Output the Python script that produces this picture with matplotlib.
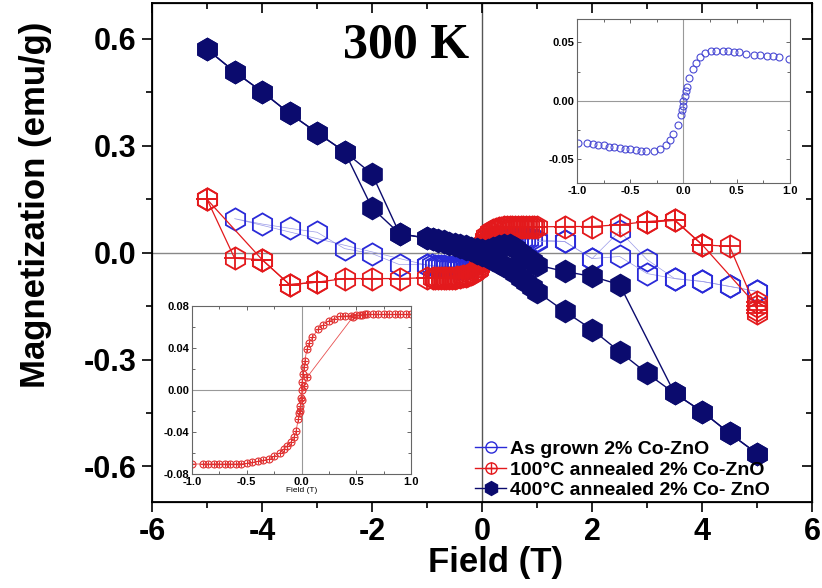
import numpy as np
import matplotlib
matplotlib.use("Agg")
import matplotlib.pyplot as plt
from matplotlib.lines import Line2D
from matplotlib.legend_handler import HandlerTuple
from matplotlib.ticker import MultipleLocator

plt.rcParams['font.family'] = ['Liberation Sans', 'DejaVu Sans']
plt.rcParams['font.weight'] = 'bold'
plt.rcParams['axes.unicode_minus'] = False

# ---- low-field data (insets), field swept 1 -> -1 T ----
blue_in_x = [0.99, 0.9, 0.84, 0.78, 0.72, 0.66, 0.59, 0.52, 0.47, 0.42, 0.37, 0.31,
             0.26, 0.2, 0.156, 0.116, 0.087, 0.053, 0.03, 0.02, 0.01, 0.0, -0.005,
             -0.01, -0.02, -0.056, -0.094, -0.125, -0.166, -0.22, -0.28, -0.35, -0.4,
             -0.45, -0.5, -0.55, -0.6, -0.65, -0.7, -0.75, -0.8, -0.85, -0.906, -0.994]
blue_in_y = [0.036, 0.0374, 0.038, 0.0382, 0.0388, 0.0394, 0.040, 0.0414, 0.0416,
             0.0422, 0.0422, 0.0425, 0.0422, 0.0408, 0.0374, 0.0326, 0.027, 0.0195,
             0.012, 0.008, 0.004, 0.0, -0.004, -0.008, -0.012, -0.0207, -0.0286,
             -0.0334, -0.0377, -0.041, -0.0425, -0.0428, -0.0428, -0.042, -0.0415,
             -0.041, -0.040, -0.0397, -0.039, -0.038, -0.0377, -0.037, -0.0363, -0.0357]

red_in_x = [1.0, 0.95, 0.9, 0.85, 0.8, 0.75, 0.7, 0.65, 0.6, 0.55, 0.5, 0.45, 0.4,
            0.35, 0.3, 0.25, 0.2, 0.15, 0.1, 0.07, 0.05, 0.03, 0.02, 0.01, 0.005, 0.0,
            -0.005, -0.01, -0.02, -0.03, -0.05, -0.07, -0.1, -0.13, -0.16, -0.2, -0.25,
            -0.3, -0.35, -0.4, -0.45, -0.5, -0.55, -0.6, -0.65, -0.7, -0.75, -0.8,
            -0.85, -0.9, -1.0]
red_in_y = [0.072, 0.072, 0.072, 0.072, 0.072, 0.072, 0.072, 0.072, 0.072, 0.0715,
            0.071, 0.0708, 0.0705, 0.070, 0.068, 0.066, 0.062, 0.058, 0.050, 0.045,
            0.039, 0.028, 0.022, 0.015, 0.008, 0.0, -0.008, -0.015, -0.022, -0.028,
            -0.039, -0.045, -0.050, -0.053, -0.056, -0.060, -0.063, -0.066, -0.067,
            -0.068, -0.069, -0.070, -0.0702, -0.0705, -0.0705, -0.0705, -0.0705,
            -0.0705, -0.0705, -0.0705, -0.0705]
# return sweep that jumps in the inset
red_ret_x = [-0.01, 0.0, 0.02, 0.05, 0.47, 0.53, 0.58]
red_ret_y = [-0.02, -0.01, 0.004, 0.012, 0.0696, 0.071, 0.072]

# ---- high-field data ----
blue_left_x = [-5.0, -4.5, -4.0, -3.5, -3.0, -2.5, -2.0, -1.5, -1.0]
blue_left_y = [0.107, 0.095, 0.080, 0.068, 0.057, 0.011, -0.003, -0.034, -0.034]
blue_right_x = [1.0, 1.5, 2.0, 2.5, 3.0, 3.5, 4.0, 4.5, 5.0]
blue_up_y = [0.031, 0.031, -0.017, 0.060, -0.020, -0.073, -0.081, -0.095, -0.109]
blue_dn_y = [0.031, 0.031, -0.017, -0.011, -0.059, -0.073, -0.081, -0.095, -0.109]

red_left_x = [-5.0, -4.5, -4.0, -3.5, -3.0, -2.5, -2.0, -1.5]
red_left_y = [0.149, -0.016, -0.020, -0.090, -0.083, -0.073, -0.073, -0.073]
red_left2_x = [-3.0, -3.5, -4.0, -5.0]
red_left2_y = [-0.083, -0.090, -0.020, 0.149]
red_right_x = [1.5, 2.0, 2.5, 3.0, 3.5, 4.0, 5.0]
red_right_y = [0.073, 0.073, 0.078, 0.087, 0.092, 0.022, -0.150]
red_right2_x = [5.0, 5.0, 5.0, 4.5, 4.0, 3.5, 3.0]
red_right2_y = [-0.170, -0.140, -0.162, 0.017, 0.022, 0.090, 0.085]

navy_left_x = [-5.0, -4.5, -4.0, -3.5, -3.0, -2.5, -2.0, -1.5]
navy_a_left = [0.570, 0.507, 0.451, 0.390, 0.336, 0.283, 0.220, 0.053]
navy_b_left = [0.570, 0.507, 0.451, 0.390, 0.336, 0.283, 0.125, 0.053]
navy_mid_x = [-1.0, -0.9, -0.8, -0.7, -0.6, -0.5, -0.4, -0.3, -0.2, -0.1, 0.0,
              0.1, 0.2, 0.3, 0.4, 0.5, 0.6, 0.7, 0.8, 0.9, 1.0]
navy_a_mid = [0.040, 0.037, 0.034, 0.031, 0.028, 0.025, 0.021, 0.017, 0.013, 0.009,
              0.006, 0.008, 0.012, 0.018, 0.022, 0.020, 0.012, 0.000, -0.012, -0.025, -0.035]
navy_b_mid = [0.040, 0.037, 0.033, 0.029, 0.025, 0.020, 0.016, 0.011, 0.006, 0.000,
              -0.006, -0.013, -0.020, -0.028, -0.037, -0.047, -0.058, -0.070, -0.083, -0.097, -0.110]
navy_a_right_x = [1.5, 2.0, 2.5, 3.5, 4.0, 4.5, 5.0]
navy_a_right = [-0.053, -0.067, -0.090, -0.395, -0.446, -0.507, -0.564]
navy_b_right_x = [1.5, 2.0, 2.5, 3.0, 3.5, 4.0, 4.5, 5.0]
navy_b_right = [-0.165, -0.216, -0.278, -0.339, -0.395, -0.446, -0.507, -0.564]

labels = ["As grown 2% Co-ZnO",
          "100\u00b0C annealed 2% Co-ZnO",
          "400\u00b0C annealed 2% Co- ZnO"]

BLUE = '#2a2ad8'
RED = '#e3191c'
NAVY = '#0b0b6e'

fig = plt.figure(figsize=(8.22, 5.88), dpi=100)
ax = fig.add_axes([0.185, 0.146, 0.803, 0.849])

ms = 16
ax.axhline(0, color='#888888', lw=1.0, zorder=1)
ax.axvline(0, color='#555555', lw=1.0, zorder=1)

# as grown
bx1 = blue_left_x[::-1][:-1] + blue_in_x[::-1] + blue_right_x[1:]
by1 = blue_left_y[::-1][:-1] + blue_in_y[::-1] + blue_up_y[1:]
for xs, ys in [(bx1, by1), (blue_right_x, blue_dn_y)]:
    ax.plot(xs, ys, color='#9a9ae8', lw=0.5, zorder=2)
    ax.plot(xs, ys, ls='none', marker='h', ms=ms, mfc='none', mec=BLUE, mew=1.3, zorder=2)

# 100 C
rx1 = red_left_x + red_in_x[::-1] + red_right_x
ry1 = red_left_y + red_in_y[::-1] + red_right_y
for xs, ys in [(rx1, ry1), (red_left2_x, red_left2_y), (red_right2_x, red_right2_y)]:
    ax.plot(xs, ys, color=RED, lw=0.9, marker='h', ms=ms, mfc='none', mec=RED, mew=1.3, zorder=3)
    ax.plot(xs, ys, ls='none', marker='+', ms=ms * 0.95, mec=RED, mew=1.3, zorder=3)

# 400 C
nx_a = navy_left_x + navy_mid_x + navy_a_right_x
ny_a = navy_a_left + navy_a_mid + navy_a_right
nx_b = navy_left_x + navy_mid_x + navy_b_right_x
ny_b = navy_b_left + navy_b_mid + navy_b_right
for xs, ys in [(nx_a, ny_a), (nx_b, ny_b)]:
    ax.plot(xs, ys, color=NAVY, lw=1.0, marker='h', ms=ms, mfc=NAVY, mec=NAVY, zorder=4)

ax.set_xlim(-6, 6)
ax.set_ylim(-0.7, 0.7)
ax.xaxis.set_major_locator(MultipleLocator(2))
ax.xaxis.set_minor_locator(MultipleLocator(1))
ax.yaxis.set_major_locator(MultipleLocator(0.3))
ax.yaxis.set_minor_locator(MultipleLocator(0.15))
ax.yaxis.set_major_formatter(plt.FuncFormatter(lambda v, p: f"{v:.1f}"))
ax.tick_params(which='major', direction='out', length=7, width=1.2, labelsize=22, pad=4)
ax.tick_params(which='minor', direction='out', length=4, width=1.2)
for s in ax.spines.values():
    s.set_linewidth(1.3)

# inward ticks on top/right
axt = ax.twiny()
axt.set_xlim(-6, 6)
axt.xaxis.set_major_locator(MultipleLocator(2))
axt.xaxis.set_minor_locator(MultipleLocator(1))
axt.tick_params(which='both', direction='in', labeltop=False, width=1.2)
axt.tick_params(which='major', length=7)
axt.tick_params(which='minor', length=4)
axr = ax.twinx()
axr.set_ylim(-0.7, 0.7)
axr.yaxis.set_major_locator(MultipleLocator(0.3))
axr.yaxis.set_minor_locator(MultipleLocator(0.15))
axr.tick_params(which='both', direction='in', labelright=False, width=1.2)
axr.tick_params(which='major', length=7)
axr.tick_params(which='minor', length=4)

ax.set_xlabel("Field (T)", fontsize=25, fontweight='bold')
ax.set_ylabel("Magnetization (emu/g)", fontsize=25, fontweight='bold')
ax.xaxis.set_label_coords(0.521, -0.088)
ax.yaxis.set_label_coords(-0.152, 0.595)

ax.text(-1.38, 0.58, "300 K", fontfamily='Liberation Serif', fontweight='bold',
        fontsize=36, ha='center', va='center', zorder=6)

h_blue = Line2D([], [], color=BLUE, lw=1, marker='o', ms=8, mfc='none', mec=BLUE, mew=1)
h_red1 = Line2D([], [], color=RED, lw=1, marker='o', ms=8, mfc='none', mec=RED, mew=1)
h_red2 = Line2D([], [], ls='none', marker='+', ms=8, mec=RED, mew=1)
h_navy = Line2D([], [], color=NAVY, lw=1, marker='h', ms=10, mfc=NAVY, mec=NAVY)
leg = ax.legend([h_blue, (h_red1, h_red2), h_navy], labels,
                handler_map={tuple: HandlerTuple(ndivide=1)},
                loc='lower left', bbox_to_anchor=(0.578, 0.151), bbox_transform=fig.transFigure,
                frameon=False, fontsize=14, handlelength=1.6, handletextpad=0.2,
                labelspacing=0.15, borderpad=0, borderaxespad=0)
leg.set_zorder(7)
for t in leg.get_texts():
    t.set_fontweight('bold')

# inset: as grown
ins1 = fig.add_axes([0.702, 0.689, 0.259, 0.279])
ins1.axhline(0, color='#999999', lw=0.8)
ins1.axvline(0, color='#999999', lw=0.8)
ins1.plot(blue_in_x, blue_in_y, ls='none', marker='o', ms=5, mfc='none', mec='#4a4ad4', mew=0.8)
ins1.set_xlim(-1, 1)
ins1.set_ylim(-0.07, 0.07)
ins1.xaxis.set_major_locator(MultipleLocator(0.5))
ins1.xaxis.set_minor_locator(MultipleLocator(0.25))
ins1.yaxis.set_major_locator(MultipleLocator(0.05))
ins1.yaxis.set_minor_locator(MultipleLocator(0.025))
ins1.xaxis.set_major_formatter(plt.FuncFormatter(lambda v, p: f"{v:.1f}"))
ins1.yaxis.set_major_formatter(plt.FuncFormatter(lambda v, p: f"{v:.2f}"))

# inset: 100 C
ins2 = fig.add_axes([0.2336, 0.1939, 0.2664, 0.2857])
ins2.axhline(0, color='#999999', lw=0.8)
ins2.axvline(0, color='#999999', lw=0.8)
for xs, ys in [(red_in_x, red_in_y), (red_ret_x, red_ret_y)]:
    ins2.plot(xs, ys, color='#e85050', lw=0.6, marker='o', ms=5, mfc='none', mec='#e03030', mew=0.8)
    ins2.plot(xs, ys, ls='none', marker='+', ms=5, mec='#e03030', mew=0.8)
ins2.set_xlim(-1, 1)
ins2.set_ylim(-0.08, 0.08)
ins2.xaxis.set_major_locator(MultipleLocator(0.5))
ins2.xaxis.set_minor_locator(MultipleLocator(0.25))
ins2.yaxis.set_major_locator(MultipleLocator(0.04))
ins2.yaxis.set_minor_locator(MultipleLocator(0.02))
ins2.xaxis.set_major_formatter(plt.FuncFormatter(lambda v, p: f"{v:.1f}"))
ins2.yaxis.set_major_formatter(plt.FuncFormatter(lambda v, p: f"{v:.2f}"))
ins2.set_xlabel("Field (T)", fontsize=6, labelpad=0)

for ins in (ins1, ins2):
    ins.set_zorder(5)
    ins.tick_params(which='both', direction='in', top=True, right=True, labelsize=8,
                    width=0.7, color='#666666', pad=2)
    ins.tick_params(which='major', length=3)
    ins.tick_params(which='minor', length=2)
    for s in ins.spines.values():
        s.set_color('#666666')
        s.set_linewidth(0.8)

fig.savefig("out.png", dpi=100)
